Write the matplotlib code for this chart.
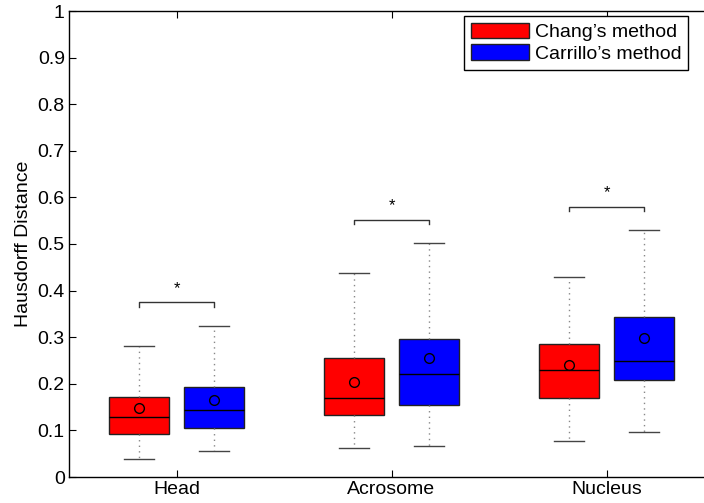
import matplotlib
matplotlib.use('Agg')
import matplotlib.pyplot as plt
from matplotlib.patches import Patch

plt.rcParams['font.family'] = ['Liberation Sans', 'DejaVu Sans']

# data
regions = ['Head', 'Acrosome', 'Nucleus']
methods = ["Chang’s method", "Carrillo’s method"]
colors = ['#ff0000', '#0000ff']

# per method: lists over regions
whislo = [[0.039, 0.062, 0.077], [0.055, 0.066, 0.097]]
q1 = [[0.093, 0.132, 0.170], [0.105, 0.155, 0.209]]
med = [[0.128, 0.170, 0.229], [0.144, 0.220, 0.250]]
q3 = [[0.171, 0.255, 0.285], [0.194, 0.296, 0.343]]
whishi = [[0.281, 0.438, 0.429], [0.325, 0.503, 0.529]]
means = [[0.149, 0.204, 0.240], [0.165, 0.256, 0.298]]

bracket_y = [0.375, 0.552, 0.580]
star_y = [0.405, 0.582, 0.610]

fig = plt.figure(figsize=(7.04, 5.03), dpi=100)
ax = fig.add_axes([69/704, 26/503, 645/704, 466/503])

offset = 0.175
for m in range(2):
    stats = []
    for r in range(3):
        stats.append(dict(whislo=whislo[m][r], q1=q1[m][r], med=med[m][r],
                          q3=q3[m][r], whishi=whishi[m][r], mean=means[m][r],
                          fliers=[]))
    pos = [i + 1 + (offset if m else -offset) for i in range(3)]
    ax.bxp(stats, positions=pos, widths=0.28, capwidths=0.14, patch_artist=True,
           showmeans=True, showfliers=False,
           boxprops=dict(facecolor=colors[m], edgecolor='#222222', linewidth=1.0),
           medianprops=dict(color='black', linewidth=1.0),
           whiskerprops=dict(color='#888888', linestyle=(0, (1, 3)), linewidth=1.0),
           capprops=dict(color='#444444', linewidth=1.0),
           meanprops=dict(marker='o', markerfacecolor='none', markeredgecolor='black',
                          markersize=7, markeredgewidth=1.0),
           manage_ticks=False)

# significance brackets
for i in range(3):
    x0 = i + 1 - offset
    x1 = i + 1 + offset
    y = bracket_y[i]
    ax.plot([x0, x0, x1, x1], [y - 0.01, y, y, y - 0.01], color='#333333', lw=1.0)
    ax.text(i + 1, star_y[i], '*', ha='center', va='center', fontsize=12)

ax.set_xlim(0.5, 3.5)
ax.set_ylim(0, 1)
ax.set_xticks([1, 2, 3])
ax.set_xticklabels(regions)
ax.set_yticks([i / 10 for i in range(11)])
ax.set_yticklabels(['0', '0.1', '0.2', '0.3', '0.4', '0.5', '0.6', '0.7', '0.8', '0.9', '1'])
ax.tick_params(direction='in', labelsize=14, length=5, top=True, right=True, pad=3)
ax.set_ylabel('Hausdorff Distance', fontsize=14, labelpad=4)
for s in ax.spines.values():
    s.set_linewidth(1.0)

handles = [Patch(facecolor=colors[0], edgecolor='#222222'),
           Patch(facecolor=colors[1], edgecolor='#222222')]
leg = ax.legend(handles, methods, loc='upper left',
                bbox_to_anchor=(463.7/704, 1 - 16/503), bbox_transform=fig.transFigure,
                borderaxespad=0, fontsize=14, fancybox=False, framealpha=1,
                handlelength=3.0, handleheight=0.85, handletextpad=0.3,
                labelspacing=0.15, borderpad=0.35)
leg.get_frame().set_edgecolor('black')
leg.get_frame().set_linewidth(1.0)

fig.savefig('out.png', dpi=100)
